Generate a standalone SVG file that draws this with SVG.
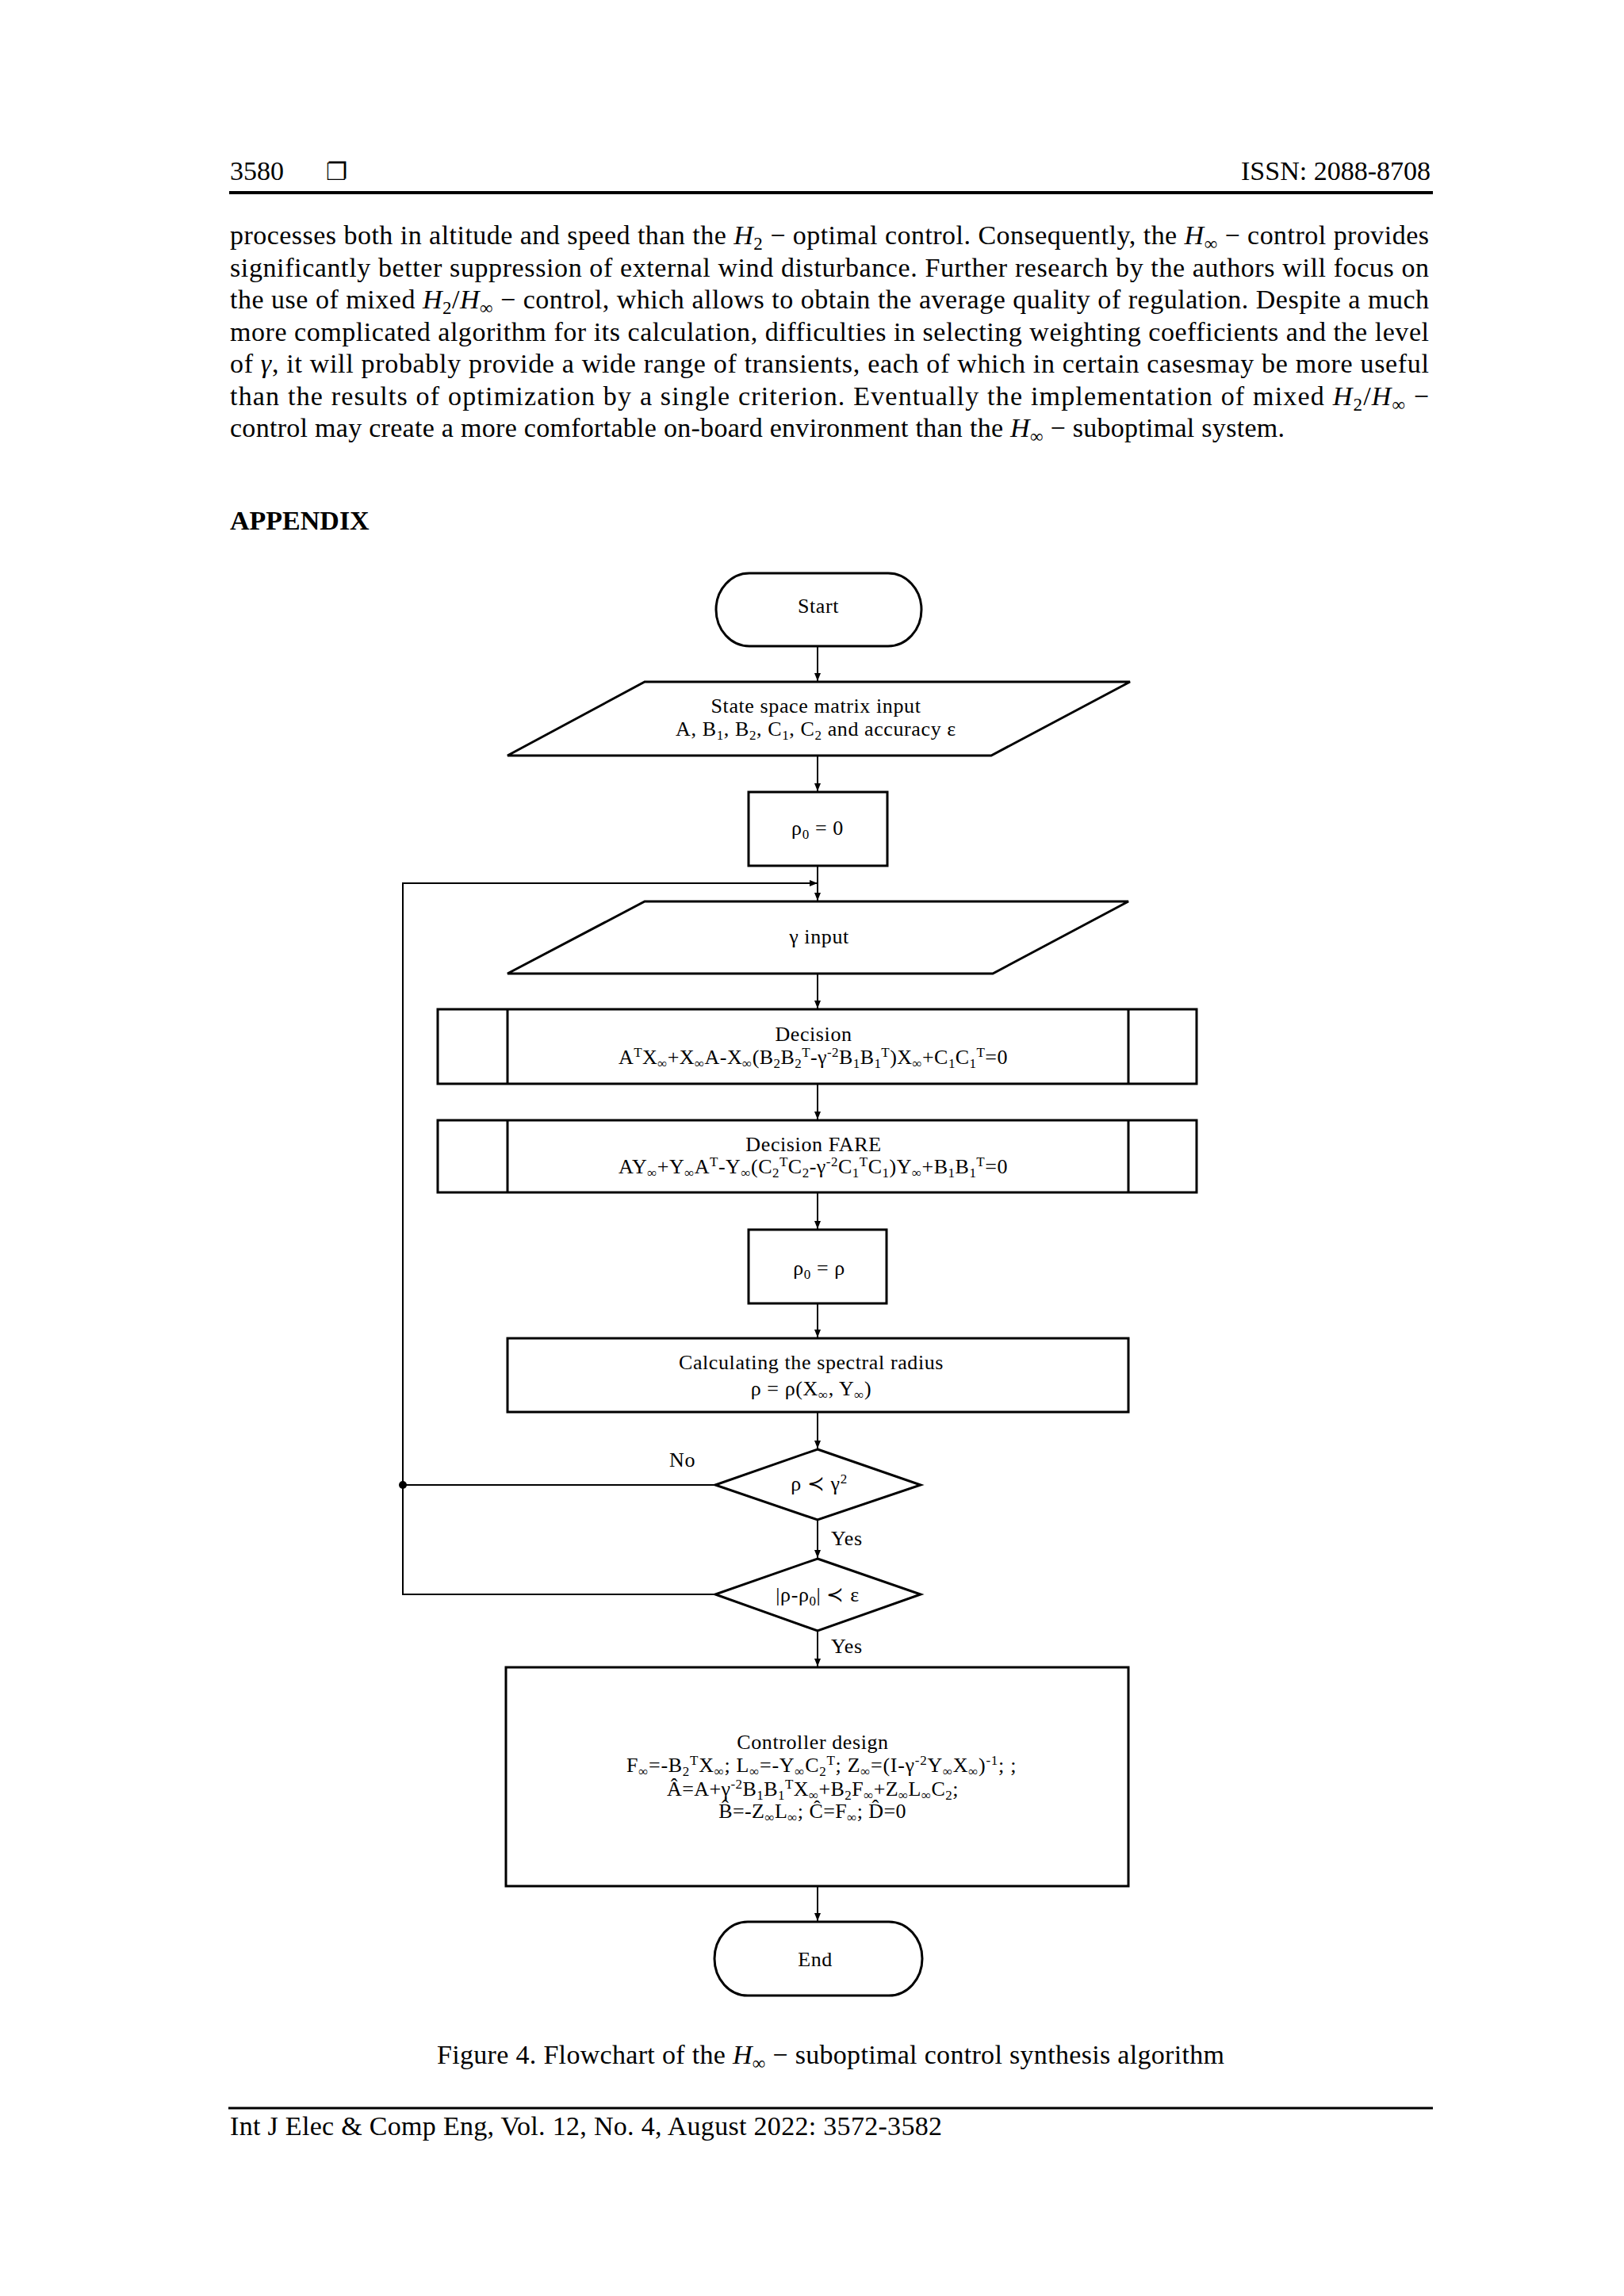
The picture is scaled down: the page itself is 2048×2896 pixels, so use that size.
<svg xmlns="http://www.w3.org/2000/svg" width="2048" height="2896" viewBox="0 0 2048 2896">
<defs>
<style>
.pg{font-family:'Liberation Serif','DejaVu Serif',serif;font-size:34px;fill:#000}
.it{font-style:italic}
.ms{font-size:23px;baseline-shift:-7px}
.ft{font-family:'Liberation Serif','DejaVu Serif',serif;font-size:26px;fill:#000;letter-spacing:0.6px}
.c{text-anchor:middle}
.sb{font-size:17px;baseline-shift:-5px}
.sp{font-size:17px;baseline-shift:9px}
.box{fill:#fff;stroke:#000;stroke-width:3}
.ln{fill:none;stroke:#000;stroke-width:2}
.rule{stroke:#000;fill:none}
</style>
<marker id="ah" markerWidth="10" markerHeight="10" refX="10" refY="5" orient="auto" markerUnits="userSpaceOnUse"><path d="M0,1 L10,5 L0,9 z" fill="#000"/></marker>
</defs>
<rect width="2048" height="2896" fill="#fff"/>

<g id="page">
<text class="pg" x="290" y="227">3580</text>
<text x="411" y="227" style="font-family:'DejaVu Sans',sans-serif;font-size:30px">❐</text>
<text class="pg" x="1804" y="227" text-anchor="end">ISSN: 2088-8708</text>
<line class="rule" x1="289" y1="243" x2="1807" y2="243" stroke-width="4"/>

<text class="pg" x="290" y="308" textLength="1512" lengthAdjust="spacing">processes both in altitude and speed than the <tspan class="it">H</tspan><tspan class="ms">2</tspan> − optimal control. Consequently, the <tspan class="it">H</tspan><tspan class="ms">∞</tspan> − control provides</text>
<text class="pg" x="290" y="348.5" textLength="1512" lengthAdjust="spacing">significantly better suppression of external wind disturbance. Further research by the authors will focus on</text>
<text class="pg" x="290" y="389" textLength="1512" lengthAdjust="spacing">the use of mixed <tspan class="it">H</tspan><tspan class="ms">2</tspan>/<tspan class="it">H</tspan><tspan class="ms">∞</tspan> − control, which allows to obtain the average quality of regulation. Despite a much</text>
<text class="pg" x="290" y="429.5" textLength="1512" lengthAdjust="spacing">more complicated algorithm for its calculation, difficulties in selecting weighting coefficients and the level</text>
<text class="pg" x="290" y="470" textLength="1512" lengthAdjust="spacing">of <tspan class="it">γ</tspan>, it will probably provide a wide range of transients, each of which in certain casesmay be more useful</text>
<text class="pg" x="290" y="510.5" textLength="1512" lengthAdjust="spacing">than the results of optimization by a single criterion. Eventually the implementation of mixed <tspan class="it">H</tspan><tspan class="ms">2</tspan>/<tspan class="it">H</tspan><tspan class="ms">∞</tspan> −</text>
<text class="pg" x="290" y="551" textLength="1330" lengthAdjust="spacing">control may create a more comfortable on-board environment than the <tspan class="it">H</tspan><tspan class="ms">∞</tspan> − suboptimal system.</text>

<text class="pg" x="290" y="668" font-weight="bold">APPENDIX</text>

<text class="pg" x="551" y="2603" textLength="993" lengthAdjust="spacing">Figure 4. Flowchart of the <tspan class="it">H</tspan><tspan class="ms">∞</tspan> − suboptimal control synthesis algorithm</text>
<line class="rule" x1="288" y1="2659" x2="1807" y2="2659" stroke-width="3"/>
<text class="pg" x="290" y="2693" textLength="898" lengthAdjust="spacing">Int J Elec &amp; Comp Eng, Vol. 12, No. 4, August 2022: 3572-3582</text>
</g>

<g id="connectors">
<path class="ln" d="M1031,816 V859" marker-end="url(#ah)"/>
<path class="ln" d="M1031,954 V998" marker-end="url(#ah)"/>
<path class="ln" d="M1031,1093 V1136" marker-end="url(#ah)"/>
<path class="ln" d="M902,2011 H508 V1114 H1031" marker-end="url(#ah)" stroke-width="2.5"/>
<path class="ln" d="M902,1873 H508" stroke-width="2.5"/>
<circle cx="508" cy="1873" r="5" fill="#000"/>
<path class="ln" d="M1031,1229 V1272" marker-end="url(#ah)"/>
<path class="ln" d="M1031,1368 V1412" marker-end="url(#ah)"/>
<path class="ln" d="M1031,1505 V1550" marker-end="url(#ah)"/>
<path class="ln" d="M1031,1645 V1687" marker-end="url(#ah)"/>
<path class="ln" d="M1031,1782 V1827" marker-end="url(#ah)"/>
<path class="ln" d="M1031,1918 V1965" marker-end="url(#ah)"/>
<path class="ln" d="M1031,2058 V2102" marker-end="url(#ah)"/>
<path class="ln" d="M1031,2380 V2423" marker-end="url(#ah)"/>
<text class="ft" x="844" y="1850">No</text>
<text class="ft" x="1048" y="1949">Yes</text>
<text class="ft" x="1048" y="2085">Yes</text>
</g>

<g id="start">
<rect class="box" x="903" y="723" width="259" height="92" rx="42" ry="46"/>
<text class="ft c" x="1032" y="773">Start</text>
</g>

<g id="input-matrices">
<polygon class="box" points="813,860 1425,860 1250,953 640,953"/>
<text class="ft c" x="1029" y="899">State space matrix input</text>
<text class="ft c" x="1029" y="928">A, B<tspan class="sb">1</tspan>, B<tspan class="sb">2</tspan>, C<tspan class="sb">1</tspan>, C<tspan class="sb">2</tspan> and accuracy ε</text>
</g>

<g id="rho0-zero">
<rect class="box" x="944" y="999" width="175" height="93"/>
<text class="ft c" x="1031" y="1053">ρ<tspan class="sb">0</tspan> = 0</text>
</g>

<g id="gamma-input">
<polygon class="box" points="813,1137 1423,1137 1252,1228 640,1228"/>
<text class="ft c" x="1033" y="1190">γ input</text>
</g>

<g id="decision-x">
<rect class="box" x="552" y="1273" width="957" height="94"/>
<line class="box" x1="640" y1="1273" x2="640" y2="1367" stroke-width="2"/>
<line class="box" x1="1423" y1="1273" x2="1423" y2="1367" stroke-width="2"/>
<text class="ft c" x="1026" y="1313">Decision</text>
<text class="ft" x="780" y="1342" textLength="491" lengthAdjust="spacing">A<tspan class="sp">T</tspan>X<tspan class="sb">∞</tspan>+X<tspan class="sb">∞</tspan>A-X<tspan class="sb">∞</tspan>(B<tspan class="sb">2</tspan>B<tspan class="sb">2</tspan><tspan class="sp">T</tspan>-γ<tspan class="sp">-2</tspan>B<tspan class="sb">1</tspan>B<tspan class="sb">1</tspan><tspan class="sp">T</tspan>)X<tspan class="sb">∞</tspan>+C<tspan class="sb">1</tspan>C<tspan class="sb">1</tspan><tspan class="sp">T</tspan>=0</text>
</g>

<g id="decision-fare">
<rect class="box" x="552" y="1413" width="957" height="91"/>
<line class="box" x1="640" y1="1413" x2="640" y2="1504" stroke-width="2"/>
<line class="box" x1="1423" y1="1413" x2="1423" y2="1504" stroke-width="2"/>
<text class="ft c" x="1026" y="1452">Decision FARE</text>
<text class="ft" x="780" y="1480" textLength="491" lengthAdjust="spacing">AY<tspan class="sb">∞</tspan>+Y<tspan class="sb">∞</tspan>A<tspan class="sp">T</tspan>-Y<tspan class="sb">∞</tspan>(C<tspan class="sb">2</tspan><tspan class="sp">T</tspan>C<tspan class="sb">2</tspan>-γ<tspan class="sp">-2</tspan>C<tspan class="sb">1</tspan><tspan class="sp">T</tspan>C<tspan class="sb">1</tspan>)Y<tspan class="sb">∞</tspan>+B<tspan class="sb">1</tspan>B<tspan class="sb">1</tspan><tspan class="sp">T</tspan>=0</text>
</g>

<g id="rho0-rho">
<rect class="box" x="944" y="1551" width="174" height="93"/>
<text class="ft c" x="1033" y="1608">ρ<tspan class="sb">0</tspan> = ρ</text>
</g>

<g id="spectral-radius">
<rect class="box" x="640" y="1688" width="783" height="93"/>
<text class="ft c" x="1023" y="1727">Calculating the spectral radius</text>
<text class="ft c" x="1023" y="1760">ρ = ρ(X<tspan class="sb">∞</tspan>, Y<tspan class="sb">∞</tspan>)</text>
</g>

<g id="check-gamma">
<polygon class="box" points="1031,1828 1161,1873 1031,1917 902,1873" stroke-width="2.5"/>
<text class="ft c" x="1033" y="1880">ρ ≺ γ<tspan class="sp">2</tspan></text>
</g>

<g id="check-accuracy">
<polygon class="box" points="1031,1966 1161,2011 1031,2057 902,2011" stroke-width="2.5"/>
<text class="ft c" x="1031" y="2020">|ρ-ρ<tspan class="sb">0</tspan>| ≺ ε</text>
</g>

<g id="controller-design">
<rect class="box" x="638" y="2103" width="785" height="276"/>
<text class="ft c" x="1025" y="2206">Controller design</text>
<text class="ft" x="790" y="2235" textLength="492" lengthAdjust="spacing">F<tspan class="sb">∞</tspan>=-B<tspan class="sb">2</tspan><tspan class="sp">T</tspan>X<tspan class="sb">∞</tspan>; L<tspan class="sb">∞</tspan>=-Y<tspan class="sb">∞</tspan>C<tspan class="sb">2</tspan><tspan class="sp">T</tspan>; Z<tspan class="sb">∞</tspan>=(I-γ<tspan class="sp">-2</tspan>Y<tspan class="sb">∞</tspan>X<tspan class="sb">∞</tspan>)<tspan class="sp">-1</tspan>;  ;</text>
<text class="ft" x="841" y="2265" textLength="368" lengthAdjust="spacing">Â=A+γ<tspan class="sp">-2</tspan>B<tspan class="sb">1</tspan>B<tspan class="sb">1</tspan><tspan class="sp">T</tspan>X<tspan class="sb">∞</tspan>+B<tspan class="sb">2</tspan>F<tspan class="sb">∞</tspan>+Z<tspan class="sb">∞</tspan>L<tspan class="sb">∞</tspan>C<tspan class="sb">2</tspan>;</text>
<text class="ft" x="906" y="2293" textLength="237" lengthAdjust="spacing">B̂=-Z<tspan class="sb">∞</tspan>L<tspan class="sb">∞</tspan>; Ĉ=F<tspan class="sb">∞</tspan>; D̂=0</text>
</g>

<g id="end">
<rect class="box" x="901" y="2424" width="262" height="93" rx="42" ry="46.5"/>
<text class="ft c" x="1028" y="2480">End</text>
</g>
</svg>
